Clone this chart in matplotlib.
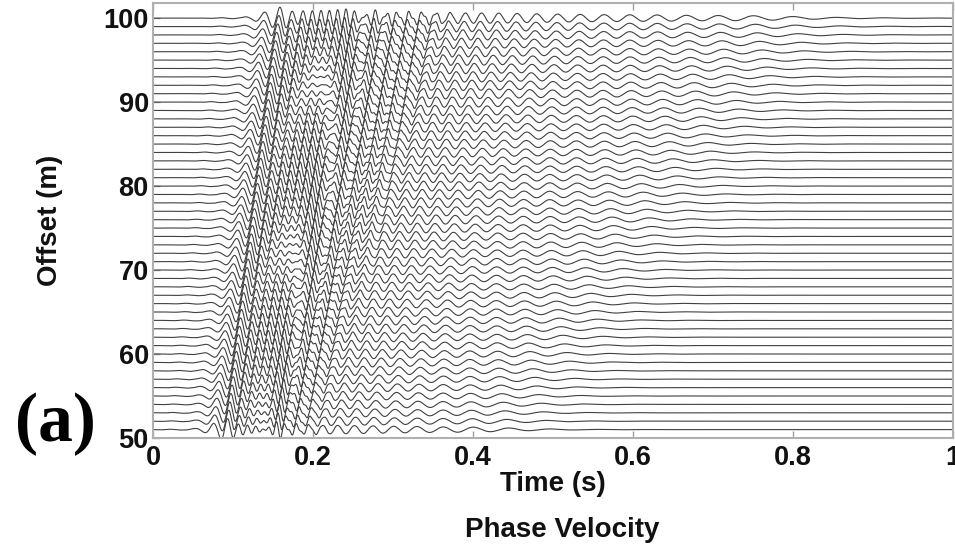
import numpy as np
import matplotlib
matplotlib.use("Agg")
import matplotlib.pyplot as plt

# ---------------- data ----------------
offsets = np.arange(51, 101)            # receiver offsets (m)
time_ticks = [0, 0.2, 0.4, 0.6, 0.8, 1.0]
time_tick_labels = ["0", "0.2", "0.4", "0.6", "0.8", "1"]
offset_ticks = [50, 60, 70, 80, 90, 100]

# fast (high-frequency) wave packet: frequency (Hz), arrival time (s) at 51 m and 100 m, relative amplitude
fast_freq = [30, 40, 55, 70, 90, 110, 130, 150]
fast_t51 = [0.072, 0.076, 0.084, 0.094, 0.110, 0.140, 0.175, 0.195]
fast_t100 = [0.135, 0.142, 0.152, 0.170, 0.205, 0.260, 0.330, 0.370]
fast_amp = [0.0, 0.6, 0.9, 0.8, 0.6, 0.5, 0.35, 0.0]
fast_ref_freq = 0.0      # frequency with zero phase (crests follow moveout)

# slow (dispersive, long tail) wave packet
slow_freq = [14, 18, 24, 30, 38, 48, 60, 75, 95, 110]
slow_t51 = [0.50, 0.47, 0.41, 0.35, 0.29, 0.24, 0.20, 0.165, 0.14, 0.13]
slow_t100 = [0.86, 0.82, 0.71, 0.60, 0.49, 0.41, 0.34, 0.28, 0.22, 0.20]
slow_amp = [0.0, 0.35, 0.6, 0.7, 0.7, 0.7, 0.6, 0.5, 0.4, 0.0]
slow_ref_freq = 30.0     # near-vertical crests in the late tail

mode_weights = [1.0, 0.5]   # fast, slow

# ---------------- synthesis ----------------
fs = 2000.0
nfft = 8192
freqs = np.fft.rfftfreq(nfft, 1.0 / fs)
df = freqs[1] - freqs[0]
t = np.arange(0, 2001) / fs


def packet(x, fr, t_near, t_far, amp, fref):
    w = (x - offsets[0]) / (offsets[-1] - offsets[0])
    tt = np.array(t_near) * (1 - w) + np.array(t_far) * w
    tau = np.interp(freqs, fr, tt)
    A = np.interp(freqs, fr, amp, left=0, right=0)
    phi = 2 * np.pi * np.cumsum(tau) * df
    phi = phi - np.interp(fref, freqs, phi)
    sig = np.fft.irfft(A * np.exp(-1j * phi), nfft)[: len(t)]
    return sig / np.max(np.abs(sig))


fig = plt.figure(figsize=(9.55, 5.44), dpi=100)
ax = fig.add_axes([153 / 955, 1 - 438 / 544, 800 / 955, 435 / 544])

for x in offsets:
    tr = mode_weights[0] * packet(x, fast_freq, fast_t51, fast_t100, fast_amp, fast_ref_freq) \
        + mode_weights[1] * packet(x, slow_freq, slow_t51, slow_t100, slow_amp, slow_ref_freq)
    tr = tr / np.max(np.abs(tr)) * 1.3
    ax.plot(t, x + tr, color="#404040", lw=0.8)

ax.set_xlim(0, 1)
ax.set_ylim(50, 101.8)
ax.set_xticks(time_ticks)
ax.set_xticklabels(time_tick_labels)
ax.set_yticks(offset_ticks)

font = "Liberation Sans"
for lab in ax.get_xticklabels() + ax.get_yticklabels():
    lab.set_fontfamily(font)
    lab.set_fontweight("bold")
    lab.set_fontsize(19.5)
    lab.set_color("#111111")

ax.tick_params(axis="x", pad=5)
ax.tick_params(axis="y", pad=3)
ax.tick_params(direction="in", length=5, width=1, color="#a0a0a0", top=True, right=False)
for s in ax.spines.values():
    s.set_color("#b0b0b0")
    s.set_linewidth(1.5)

ax.set_xlabel("Time (s)", fontfamily=font, fontweight="bold", fontsize=20, color="#111111")
ax.xaxis.set_label_coords(0.5, -0.075)
ax.set_ylabel("Offset (m)", fontfamily=font, fontweight="bold", fontsize=20, color="#111111")
ax.yaxis.set_label_coords(-0.112, 0.5)

fig.text(562 / 955, 1 - 530 / 544, "Phase Velocity", ha="center", va="center",
         fontfamily=font, fontweight="bold", fontsize=20, color="#111111")
fig.text(55 / 955, 1 - 424 / 544, "(a)", ha="center", va="center",
         fontfamily="Liberation Serif", fontweight="bold", fontsize=50, color="black")

fig.savefig("out.png", dpi=100)
